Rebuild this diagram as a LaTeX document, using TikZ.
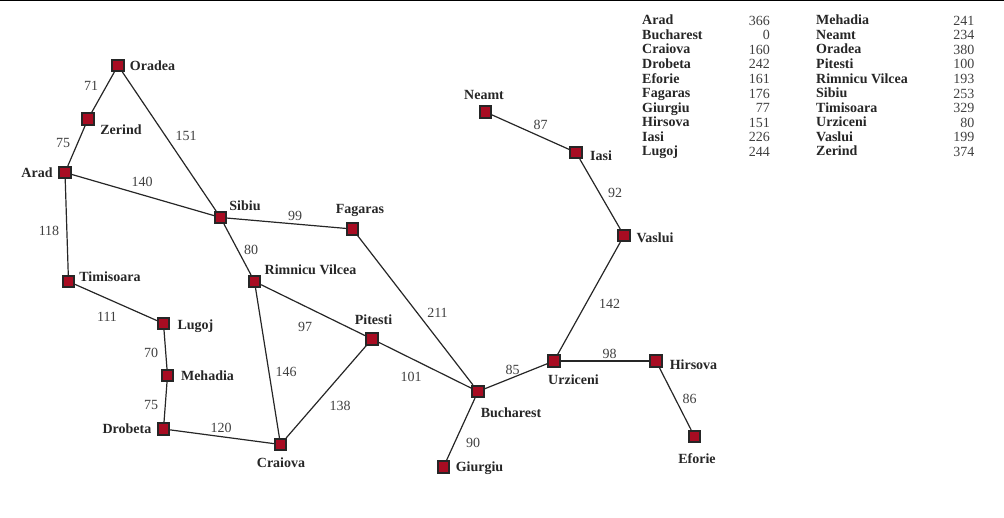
\documentclass[tikz,border=0pt]{standalone}
\usepackage{fontspec}
\setmainfont{Liberation Serif}
\definecolor{cityred}{HTML}{A80C22}
\definecolor{ink}{HTML}{262626}
\begin{document}
\begin{tikzpicture}[x=1pt,y=-1pt,
  city/.style={draw=ink,line width=1.6pt,fill=cityred,minimum size=11.5pt,inner sep=0pt,shape=rectangle},
  road/.style={draw=ink,line width=1.2pt},
  cname/.style={font=\fontsize{14}{15}\selectfont\bfseries,text=ink,inner sep=0pt,anchor=base,yshift=-0.7pt},
  dist/.style={font=\fontsize{14}{15}\selectfont,text=black!75,inner sep=0pt,anchor=base,yshift=-0.5pt},
  tname/.style={cname,anchor=base west},
  tval/.style={dist,anchor=base east}]
\useasboundingbox (0,0) rectangle (1004,518);
\fill[black] (0,0) rectangle (1004,1.4);
% cities
\foreach \n/\x/\y in {Oradea/118/65.5,Zerind/88/119,Arad/65/172.5,Sibiu/220.5/217.5,Fagaras/352.5/229,Timisoara/68.5/281.5,Rimnicu/254.5/281.5,Lugoj/163.5/323.5,Mehadia/167.5/375.5,Drobeta/163.5/429,Craiova/280.5/444.5,Pitesti/372/339,Bucharest/478/391.5,Giurgiu/443.5/467,Urziceni/554/361,Hirsova/656/361,Eforie/694.5/436.5,Vaslui/624/235.5,Iasi/576/152.5,Neamt/485.5/112}
  \node[city] (\n) at (\x,\y) {};
% roads
\foreach \a/\b in {Oradea/Zerind,Zerind/Arad,Oradea/Sibiu,Arad/Sibiu,Arad/Timisoara,Timisoara/Lugoj,Lugoj/Mehadia,Mehadia/Drobeta,Drobeta/Craiova,Sibiu/Fagaras,Sibiu/Rimnicu,Rimnicu/Pitesti,Rimnicu/Craiova,Craiova/Pitesti,Pitesti/Bucharest,Fagaras/Bucharest,Bucharest/Giurgiu,Bucharest/Urziceni,Urziceni/Hirsova,Hirsova/Eforie,Urziceni/Vaslui,Vaslui/Iasi,Iasi/Neamt}
  \draw[road] (\a) -- (\b);
% city labels
\foreach \i/\t/\x/\y in {lo/Oradea/152.5/70,lz/Zerind/121/133.5,la/Arad/37/177,ls/Sibiu/245/209.5,lf/Fagaras/360/213,lt/Timisoara/110/281,lr/Rimnicu Vilcea/310.5/274,ll/Lugoj/195.5/329,lm/Mehadia/207.5/380,ld/Drobeta/127/433,lc/Craiova/281/467,lp/Pitesti/373.5/323.5,lb/Bucharest/511/417,lg/Giurgiu/479.5/471,lu/Urziceni/573.5/384,lh/Hirsova/693.5/368.5,le/Eforie/697/463,lv/Vaslui/655/242,li/Iasi/601/160,ln/Neamt/484/98.5}
  \node[cname] (\i) at (\x,\y) {\t};
% distances
\foreach \i/\t/\x/\y in {d1/71/91/90,d2/75/63/147,d3/151/186/140.5,d4/140/142/186.5,d5/118/49/235,d6/111/107/321,d7/70/151/357,d8/75/151/409,d9/120/221/432,d10/99/295/220,d11/80/251/254,d12/97/305/331.5,d13/146/286/376,d14/138/340/410,d15/101/411/381,d16/211/437.5/317,d17/90/473/447,d18/85/512.5/374,d19/98/609.5/358.5,d20/86/689.5/403.5,d21/142/609.5/308,d22/92/615/197.5,d23/87/540.5/129}
  \node[dist] (\i) at (\x,\y) {\t};
% table
\foreach \i/\t/\v [count=\k from 0] in {a/Arad/366,b/Bucharest/0,c/Craiova/160,d/Drobeta/242,e/Eforie/161,f/Fagaras/176,g/Giurgiu/77,h/Hirsova/151,j/Iasi/226,k/Lugoj/244}{
  \node[tname] (tn\i) at (642,{24.2+14.55*\k}) {\t};
  \node[tval] (tv\i) at (770,{24.8+14.55*\k}) {\v};
}
\foreach \i/\t/\v [count=\k from 0] in {m/Mehadia/241,n/Neamt/234,o/Oradea/380,p/Pitesti/100,r/Rimnicu Vilcea/193,s/Sibiu/253,t/Timisoara/329,u/Urziceni/80,v/Vaslui/199,z/Zerind/374}{
  \node[tname] (tn\i) at (816,{24.2+14.55*\k}) {\t};
  \node[tval] (tv\i) at (974.5,{24.8+14.55*\k}) {\v};
}
\end{tikzpicture}
\end{document}
